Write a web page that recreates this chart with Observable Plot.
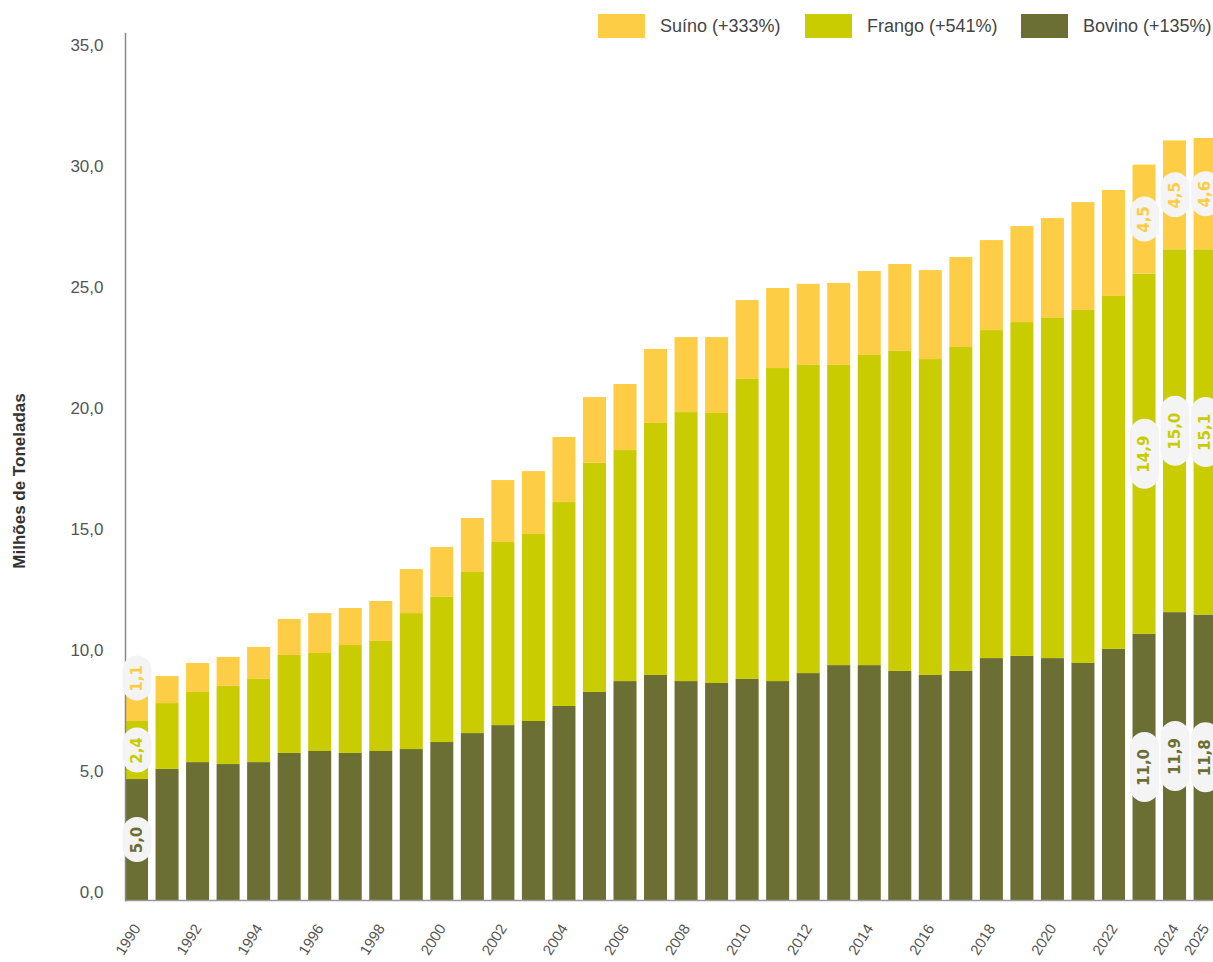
<!DOCTYPE html>
<html><head><meta charset="utf-8">
<script src="https://cdn.jsdelivr.net/npm/d3@7"></script>
<script src="https://cdn.jsdelivr.net/npm/@observablehq/plot@0.6"></script>
<style>
body{margin:0;overflow:hidden;background:#fff;font-family:"Liberation Sans",Arial,sans-serif}
#wrap{position:relative;width:1213px;height:962px;overflow:hidden}
#wrap svg{position:absolute;left:0;top:0}
.sw{position:absolute;top:14px;width:47px;height:24px}
.lt{position:absolute;top:15px;font-size:18px;color:#444;line-height:22px;white-space:nowrap}
#ytitle{position:absolute;left:20px;top:481px;transform:translate(-50%,-50%) rotate(-90deg);font-weight:bold;font-size:17px;color:#333;white-space:nowrap}
</style></head><body><div id="wrap"></div>
<script>
const years = [1990,1991,1992,1993,1994,1995,1996,1997,1998,1999,2000,2001,2002,2003,2004,2005,2006,2007,2008,2009,2010,2011,2012,2013,2014,2015,2016,2017,2018,2019,2020,2021,2022,2023,2024,2025];
const bovino = [5.0,5.42,5.70,5.62,5.70,6.08,6.16,6.08,6.16,6.24,6.53,6.90,7.23,7.40,8.02,8.60,9.05,9.30,9.05,8.97,9.14,9.05,9.38,9.71,9.71,9.47,9.30,9.47,10.00,10.09,10.00,9.80,10.38,11.0,11.9,11.8];
const frango = [2.4,2.72,2.90,3.23,3.44,4.05,4.05,4.46,4.55,5.62,6.00,6.66,7.57,7.73,8.43,9.47,9.55,10.42,11.12,11.16,12.40,12.94,12.74,12.41,12.82,13.23,13.06,13.39,13.56,13.80,14.06,14.59,14.59,14.9,15.0,15.1];
const suino = [1.1,1.12,1.20,1.20,1.32,1.49,1.65,1.53,1.65,1.82,2.06,2.23,2.56,2.60,2.69,2.72,2.73,3.06,3.10,3.14,3.26,3.31,3.35,3.39,3.47,3.59,3.68,3.72,3.72,3.97,4.13,4.46,4.38,4.5,4.5,4.6];
const seriesNames = ["Suíno","Frango","Bovino"];
const legendLabels = ["Suíno (+333%)","Frango (+541%)","Bovino (+135%)"];
const seriesColors = ["#FECD46","#C9CC00","#6B6F33"];
const labeledYears = [1990,2023,2024,2025];
const xTicks = [1990,1992,1994,1996,1998,2000,2002,2004,2006,2008,2010,2012,2014,2016,2018,2020,2022,2024,2025];
const yTicks = [0,5,10,15,20,25,30,35];
const yTitle = "Milhões de Toneladas";

(function () {
const fmt = v => v.toFixed(1).replace(".", ",");
const rows = [];
years.forEach((yr, i) => {
  let base = 0;
  [["Bovino", bovino], ["Frango", frango], ["Suíno", suino]].forEach(([s, arr]) => {
    rows.push({year: yr, series: s, value: arr[i], y1: base, y2: base + arr[i]});
    base += arr[i];
  });
});
const yMax = 35.84;
const plotTop = 33, plotBottom = 900;
const pxPerUnit = (plotBottom - plotTop) / yMax;
const pillW = 29, gapPx = 27;
// pill placement: centred on each segment, pushed upward if it would touch the pill below
const lab = [];
labeledYears.forEach(yr => {
  let prevTop = -Infinity; // top edge (data units) of the previous pill
  rows.filter(d => d.year === yr).forEach(d => {
    const text = fmt(d.value);
    const len = text.length > 3 ? 70 : 45;
    const half = len / 2 / pxPerUnit;
    let mid = (d.y1 + d.y2) / 2;
    if (mid - half < prevTop + gapPx / pxPerUnit && prevTop > -Infinity) {
      const need = prevTop + gapPx / pxPerUnit + half;
      if (mid - half < prevTop) mid = need;
    }
    prevTop = mid + half;
    const h = (len - pillW) / 2 / pxPerUnit;
    lab.push({...d, text, mid, a: mid - h, b: mid + h});
  });
});

const chart = Plot.plot({
  width: 1213, height: 962,
  marginTop: plotTop, marginBottom: 962 - plotBottom, marginLeft: 125, marginRight: -3.6,
  style: {fontFamily: "Liberation Sans, Arial, sans-serif", background: "transparent"},
  x: {type: "band", domain: years, paddingInner: 0.246, paddingOuter: 0, round: false},
  y: {domain: [0, yMax]},
  color: {domain: seriesNames, range: seriesColors},
  marks: [
    Plot.barY(rows, {x: "year", y1: "y1", y2: "y2", fill: "series"}),
    Plot.ruleY([0], {stroke: "#999", strokeWidth: 1.5}),
    Plot.frame({anchor: "left", stroke: "#888", strokeWidth: 1.5}),
    Plot.axisY({ticks: yTicks, tickFormat: fmt, tickSize: 0, tickPadding: 22, dy: -8, fontSize: 17, fill: "#555", label: null}),
    Plot.axisX({ticks: xTicks, tickFormat: d => String(d), tickRotate: -58, tickSize: 0, tickPadding: 25, fontSize: 15, fill: "#555", label: null}),
    Plot.ruleX(lab, {x: "year", y1: "a", y2: "b", stroke: "#f4f4f4", strokeWidth: pillW, strokeLinecap: "round"}),
    Plot.text(lab, {x: "year", y: "mid", text: "text", rotate: -90, fill: "series", fontWeight: "bold", fontSize: 15, fontFamily: "DejaVu Sans"})
  ]
});
const wrap = document.getElementById("wrap");
wrap.appendChild(chart);

const swX = [598, 805, 1021];
const txX = [660, 867, 1083];
seriesNames.forEach((s, i) => {
  const sw = document.createElement("div");
  sw.className = "sw"; sw.style.left = swX[i] + "px"; sw.style.background = seriesColors[i];
  wrap.appendChild(sw);
  const t = document.createElement("div");
  t.className = "lt"; t.style.left = txX[i] + "px"; t.textContent = legendLabels[i];
  wrap.appendChild(t);
});
const yt = document.createElement("div");
yt.id = "ytitle"; yt.textContent = yTitle;
wrap.appendChild(yt);
})();
</script>
</body></html>
